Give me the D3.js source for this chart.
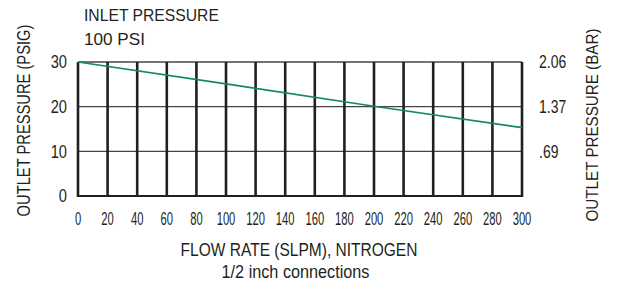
<!DOCTYPE html>
<html><head><meta charset="utf-8">
<script src="https://cdn.jsdelivr.net/npm/d3@7"></script>
<style>
body{margin:0;background:#fff;}
text{font-family:"Liberation Sans",Arial,sans-serif;fill:#231f20;}
</style></head><body>
<svg id="c" width="618" height="284"></svg>
<script>
const flowTicks = [0,20,40,60,80,100,120,140,160,180,200,220,240,260,280,300];
const psigTicks = [0,10,20,30];
const barLabels = ["", ".69", "1.37", "2.06"];
const flow = [0, 100, 200, 300];
const outletPsig = [30, 25.1, 20.1, 15.3];

const svg = d3.select("#c");
const x = d3.scaleLinear().domain([0,300]).range([78,522]);
const y = d3.scaleLinear().domain([0,30]).range([196,62]);

// horizontal grid
svg.append("g").selectAll("line").data(psigTicks.filter(d=>d>0)).join("line")
  .attr("x1",x(0)).attr("x2",x(300)).attr("y1",d=>y(d)).attr("y2",d=>y(d))
  .attr("stroke","#444").attr("stroke-width",1.4);
// bottom
svg.append("line").attr("x1",x(0)-1).attr("x2",x(300)+1).attr("y1",y(0)).attr("y2",y(0))
  .attr("stroke","#231f20").attr("stroke-width",2);
// vertical grid
svg.append("g").selectAll("line").data(flowTicks).join("line")
  .attr("x1",d=>x(d)).attr("x2",d=>x(d)).attr("y1",y(30)).attr("y2",y(0)+1)
  .attr("stroke","#231f20").attr("stroke-width",2.6);

// line
svg.append("path").datum(flow.map((f,i)=>[f,outletPsig[i]]))
  .attr("d",d3.line().x(d=>x(d[0])).y(d=>y(d[1])))
  .attr("fill","none").attr("stroke","#138a5c").attr("stroke-width",1.6);

const fs = 17.5;
// left ticks
svg.append("g").selectAll("text").data(psigTicks).join("text")
  .attr("transform",d=>`translate(67,${y(d)}) scale(0.84,1)`).attr("dy","0.36em").attr("text-anchor","end")
  .attr("font-size",fs).text(d=>d);
// right ticks
svg.append("g").selectAll("text").data(psigTicks).join("text")
  .attr("transform",d=>`translate(539,${y(d)}) scale(0.8,1)`).attr("dy","0.36em").attr("text-anchor","start")
  .attr("font-size",fs).text((d,i)=>barLabels[i]);
// x ticks
svg.append("g").selectAll("text").data(flowTicks).join("text")
  .attr("transform",d=>`translate(${x(d)},225) scale(0.64,1)`).attr("text-anchor","middle")
  .attr("font-size",fs).text(d=>d);

function fitted(str, size, tx, ty, rot, anchor, width){
  const t = svg.append("text").attr("font-size",size).attr("text-anchor",anchor).text(str);
  const w = t.node().getComputedTextLength();
  const s = width / w;
  t.attr("transform",`translate(${tx},${ty}) rotate(${rot}) scale(${s},1)`);
  return t;
}
fitted("INLET PRESSURE",16,84,21,0,"start",135);
fitted("100 PSI",16,84,45,0,"start",61);
fitted("FLOW RATE (SLPM), NITROGEN",17.5,299,256,0,"middle",237);
fitted("1/2 inch connections",17.5,295.5,278,0,"middle",148);
fitted("OUTLET PRESSURE (PSIG)",17.5,30,120.5,-90,"middle",192);
fitted("OUTLET PRESSURE (BAR)",17,598,125,-90,"middle",193);
</script></body></html>
